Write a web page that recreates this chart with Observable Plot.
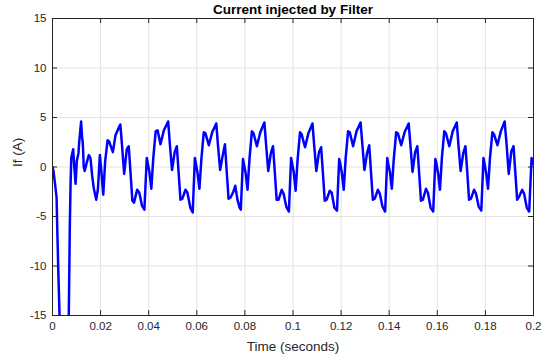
<!DOCTYPE html>
<html><head><meta charset="utf-8">
<script src="https://cdn.jsdelivr.net/npm/d3@7"></script>
<script src="https://cdn.jsdelivr.net/npm/@observablehq/plot@0.6"></script>
<style>html,body{margin:0;padding:0;background:#fff}</style>
</head><body><div id="chart"></div>
<script>
const title = "Current injected by Filter";
const xLabel = "Time (seconds)";
const yLabel = "If (A)";
const xTicks = [0, 0.02, 0.04, 0.06, 0.08, 0.1, 0.12, 0.14, 0.16, 0.18, 0.2];
const xTickLabels = ["0", "0.02", "0.04", "0.06", "0.08", "0.1", "0.12", "0.14", "0.16", "0.18", "0.2"];
const yTicks = [-15, -10, -5, 0, 5, 10, 15];
const yTickLabels = ["-15", "-10", "-5", "0", "5", "10", "15"];

const time = [
  0, 0.0004, 0.0008, 0.0012, 0.0017, 0.00195, 0.00247, 0.0029, 0.0035, 0.0045, 0.0055, 0.0062, 0.00678, 0.0072, 0.0075, 0.0078, 0.0086, 0.009, 0.0096, 0.0101, 0.0108, 0.0111, 0.0119, 0.0123, 0.0126, 0.013, 0.0134, 0.0144, 0.0151, 0.0158, 0.0165, 0.0172, 0.0182, 0.0189, 0.0197,
  0.0203, 0.0211, 0.0219, 0.0229, 0.0235, 0.0251, 0.0262, 0.0276, 0.0282, 0.0289, 0.0298, 0.0309, 0.0317, 0.0324, 0.0332, 0.0339, 0.0352, 0.0361, 0.0372, 0.0382, 0.0392, 0.0396,
  0.0403, 0.0411, 0.0419, 0.0429, 0.0437, 0.0449, 0.0463, 0.0481, 0.0488, 0.0497, 0.0508, 0.0517, 0.0524, 0.0532, 0.0540, 0.0553, 0.0561, 0.0573, 0.0583, 0.0592, 0.0596,
  0.0603, 0.0611, 0.0619, 0.0629, 0.0636, 0.0650, 0.0664, 0.0681, 0.0688, 0.0697, 0.0708, 0.0717, 0.0724, 0.0732, 0.0740, 0.0752, 0.0760, 0.0769, 0.0778, 0.0783, 0.0792, 0.0796,
  0.0803, 0.0811, 0.0819, 0.0829, 0.0836, 0.0850, 0.0864, 0.0881, 0.0888, 0.0897, 0.0908, 0.0917, 0.0924, 0.0932, 0.0940, 0.0953, 0.0961, 0.0972, 0.0983, 0.0992, 0.0996,
  0.1003, 0.1011, 0.1019, 0.1029, 0.1036, 0.1050, 0.1064, 0.1081, 0.1088, 0.1097, 0.1108, 0.1117, 0.1124, 0.1132, 0.1140, 0.1153, 0.1161, 0.1172, 0.1183, 0.1192, 0.1196,
  0.1203, 0.1211, 0.1219, 0.1229, 0.1236, 0.1250, 0.1264, 0.1281, 0.1288, 0.1297, 0.1308, 0.1317, 0.1324, 0.1332, 0.1340, 0.1353, 0.1361, 0.1372, 0.1383, 0.1392, 0.1396,
  0.1403, 0.1411, 0.1419, 0.1429, 0.1436, 0.1450, 0.1464, 0.1481, 0.1488, 0.1497, 0.1508, 0.1517, 0.1524, 0.1532, 0.1540, 0.1553, 0.1561, 0.1572, 0.1583, 0.1592, 0.1596,
  0.1603, 0.1611, 0.1619, 0.1629, 0.1636, 0.1650, 0.1664, 0.1681, 0.1688, 0.1697, 0.1708, 0.1717, 0.1724, 0.1732, 0.1740, 0.1753, 0.1761, 0.1772, 0.1783, 0.1792, 0.1796,
  0.1803, 0.1811, 0.1819, 0.1829, 0.1836, 0.1850, 0.1864, 0.1880, 0.1888, 0.1897, 0.1908, 0.1917, 0.1924, 0.1932, 0.1940, 0.1953, 0.1961, 0.1972, 0.1982, 0.1992, 0.1996, 0.2000
];
const current = [
  0, -0.4, -1.2, -2.0, -3.1, -5.9, -11, -14.8, -21, -27, -29, -25.5, -14.8, -6, -1.9, 0.9, 1.8, 0.2, -1.7, 0.6, 1.4, 2.5, 4.6, 3.0, 2.4, 0.0, -0.4, 0.6, 1.2, 0.9, -0.9, -2.2, -3.3, -2.2, 1.2,
  -0.4, -2.8, 0.6, 2.7, 2.6, 1.5, 3.2, 4.0, 4.3, 2.2, -0.7, 1.8, 2.1, -0.4, -3.4, -3.6, -2.3, -2.6, -3.9, -4.3, 0.9, 0.4,
  -0.5, -2.2, 0.9, 3.6, 3.7, 2.3, 3.7, 4.6, 2.3, -0.3, 1.5, 2.1, -0.4, -3.3, -3.2, -2.3, -2.6, -4.1, -4.6, 0.9, 0.4,
  -0.6, -2.2, 0.8, 3.5, 3.4, 2.2, 3.5, 4.4, 2.2, -0.3, 1.2, 2.3, -0.3, -3.2, -3.1, -2.5, -1.9, -3.3, -4.1, -4.3, 0.8, 0.3,
  -0.6, -2.3, 0.8, 3.6, 3.4, 2.1, 3.5, 4.5, 2.3, -0.4, 1.4, 2.1, -0.4, -3.3, -3.3, -2.3, -2.7, -4.0, -4.5, 0.9, 0.4,
  -0.5, -2.4, 0.7, 3.5, 3.3, 2.0, 3.4, 4.4, 2.2, -0.4, 1.5, 2.0, -0.5, -3.4, -3.3, -2.4, -2.6, -4.1, -4.4, 0.8, 0.4,
  -0.6, -2.3, 0.9, 3.6, 3.5, 2.1, 3.6, 4.5, 2.4, -0.3, 1.4, 2.2, -0.4, -3.3, -3.2, -2.3, -2.7, -4.0, -4.5, 0.9, 0.3,
  -0.5, -2.2, 0.8, 3.5, 3.4, 2.2, 3.5, 4.4, 2.3, -0.5, 1.5, 2.1, -0.4, -3.4, -3.3, -2.2, -2.6, -4.1, -4.5, 0.8, 0.4,
  -0.6, -2.3, 0.9, 3.6, 3.4, 2.1, 3.6, 4.5, 2.2, -0.4, 1.4, 2.1, -0.3, -3.3, -3.2, -2.3, -2.7, -4.0, -4.4, 0.9, 0.4,
  -0.6, -2.2, 0.9, 3.5, 3.3, 2.2, 3.6, 4.6, 2.3, -0.7, 1.6, 2.1, -0.4, -3.3, -3.0, -2.3, -2.7, -4.1, -4.5, 0.9, 0.6, 0.3
];

const data = time.map((t, i) => ({t, v: current[i]}));
const W = 544, H = 356, mL = 52, mR = 11, mT = 18, mB = 41;
const fw = W - mL - mR, fh = H - mT - mB;
const ink = "#262626";
const font = "'Liberation Sans', Arial, Helvetica, sans-serif";

const chart = Plot.plot({
  width: W, height: H,
  marginLeft: mL, marginRight: mR, marginTop: mT, marginBottom: mB,
  style: {fontFamily: font, background: "#fff", color: ink},
  x: {domain: [0, 0.2], axis: null},
  y: {domain: [-15, 15], axis: null},
  marks: [
    Plot.ruleX(xTicks, {x: d => d, stroke: "#e3e3e3"}),
    Plot.ruleY(yTicks, {y: d => d, stroke: "#e3e3e3"}),
    Plot.line(data, {x: "t", y: "v", stroke: "#0000ff", strokeWidth: 2.5, clip: true}),
    Plot.frame({stroke: ink}),
    Plot.tickX(xTicks, {x: d => d, insetTop: fh - 5, stroke: ink}),
    Plot.tickX(xTicks, {x: d => d, insetBottom: fh - 5, stroke: ink}),
    Plot.tickY(yTicks, {y: d => d, insetRight: fw - 5, stroke: ink}),
    Plot.tickY(yTicks, {y: d => d, insetLeft: fw - 5, stroke: ink}),
    Plot.text(xTicks, {x: d => d, text: (d, i) => xTickLabels[i], frameAnchor: "bottom", lineAnchor: "middle", dy: 11, fontSize: 11.5, fill: ink}),
    Plot.text(yTicks, {y: d => d, text: (d, i) => yTickLabels[i], frameAnchor: "left", lineAnchor: "middle", dx: -6, textAnchor: "end", fontSize: 11.5, fill: ink}),
    Plot.text([xLabel], {frameAnchor: "bottom", lineAnchor: "middle", dy: 31, fontSize: 13.5, fill: ink}),
    Plot.text([yLabel], {frameAnchor: "left", lineAnchor: "middle", dx: -35, rotate: -90, fontSize: 13.5, fill: ink}),
    Plot.text([title], {frameAnchor: "top", lineAnchor: "middle", dy: -9, fontSize: 13.5, fontWeight: "bold", fill: "#000"})
  ]
});
document.getElementById("chart").appendChild(chart);
</script>
</body></html>
